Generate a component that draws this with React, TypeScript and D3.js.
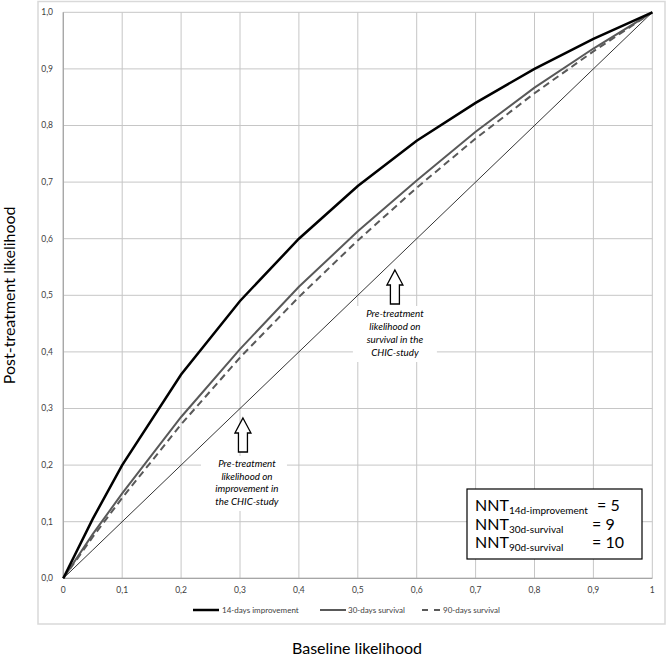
import React from "react";
import * as d3 from "d3";

const baseline = [0, 0.05, 0.1, 0.2, 0.3, 0.4, 0.5, 0.6, 0.7, 0.8, 0.9, 1.0];
const improvement14d = [0, 0.105, 0.2, 0.36, 0.49, 0.6, 0.693, 0.773, 0.84, 0.9, 0.953, 1.0];
const survival30d = [0, 0.078, 0.15, 0.285, 0.405, 0.515, 0.613, 0.703, 0.789, 0.867, 0.936, 1.0];
const survival90d = [0, 0.073, 0.142, 0.272, 0.39, 0.497, 0.597, 0.69, 0.777, 0.857, 0.931, 1.0];
const diagonal = [0, 0.05, 0.1, 0.2, 0.3, 0.4, 0.5, 0.6, 0.7, 0.8, 0.9, 1.0];

const xTickValues = [0, 0.1, 0.2, 0.3, 0.4, 0.5, 0.6, 0.7, 0.8, 0.9, 1.0];
const xTickLabels = ["0", "0,1", "0,2", "0,3", "0,4", "0,5", "0,6", "0,7", "0,8", "0,9", "1"];
const yTickValues = [0, 0.1, 0.2, 0.3, 0.4, 0.5, 0.6, 0.7, 0.8, 0.9, 1.0];
const yTickLabels = ["0,0", "0,1", "0,2", "0,3", "0,4", "0,5", "0,6", "0,7", "0,8", "0,9", "1,0"];

const seriesNames = ["14-days improvement", "30-days survival", "90-days survival"];

const annotation1Lines = ["Pre-treatment", "likelihood on", "improvement in", "the CHIC-study"];
const annotation2Lines = ["Pre-treatment", "likelihood on", "survival in the", "CHIC-study"];

const nntLabels = ["14d-improvement", "30d-survival", "90d-survival"];
const nntValues = ["= 5", "= 9", "= 10"];

const FONT = "Lato, 'Open Sans', sans-serif";

function BlockArrow({ cx, top }: { cx: number; top: number }) {
  const hw = 8, sw = 4.5, headH = 15, total = 34;
  const d = `M${cx},${top} L${cx + hw},${top + headH} L${cx + sw},${top + headH} L${cx + sw},${top + total} L${cx - sw},${top + total} L${cx - sw},${top + headH} L${cx - hw},${top + headH} Z`;
  return <path d={d} fill="#fff" stroke="#000" strokeWidth={1.3} strokeLinejoin="miter" />;
}

export default function App() {
  const x = d3.scaleLinear().domain([0, 1]).range([63.3, 652.3]);
  const y = d3.scaleLinear().domain([0, 1]).range([578.3, 12.3]);
  const line = d3
    .line<[number, number]>()
    .x((d) => x(d[0]))
    .y((d) => y(d[1]));
  const mk = (vals: number[]) => baseline.map((b, i) => [b, vals[i]] as [number, number]);

  const ann1x = x(0.305);
  const ann2x = x(0.563);

  return (
    <svg
      width={667}
      height={657}
      style={{ position: "absolute", left: 0, top: 0, background: "#fff", fontFamily: FONT }}
    >
      <rect x={0} y={0} width={667} height={657} fill="#fff" />
      <rect x={38} y={1.5} width={627} height={622.5} fill="none" stroke="#d9d9d9" strokeWidth={1.5} />

      {/* gridlines */}
      {xTickValues.map((v, i) => (
        <line key={"gx" + i} x1={x(v)} x2={x(v)} y1={y(0)} y2={y(1)} stroke="#c6c6c6" strokeWidth={1} />
      ))}
      {yTickValues.map((v, i) => (
        <line key={"gy" + i} x1={x(0)} x2={x(1)} y1={y(v)} y2={y(v)} stroke="#c6c6c6" strokeWidth={1} />
      ))}
      {/* axes */}
      <line x1={x(0)} x2={x(0)} y1={y(0)} y2={y(1)} stroke="#a6a6a6" strokeWidth={1.3} />
      <line x1={x(0)} x2={x(1)} y1={y(0)} y2={y(0)} stroke="#a6a6a6" strokeWidth={1.3} />

      {/* tick labels */}
      {yTickValues.map((v, i) => (
        <text key={"ty" + i} x={53} y={y(v)} dy="0.35em" textAnchor="end" fontSize={8.5} fill="#404040">
          {yTickLabels[i]}
        </text>
      ))}
      {xTickValues.map((v, i) => (
        <text key={"tx" + i} x={x(v)} y={593} textAnchor="middle" fontSize={8.5} fill="#404040">
          {xTickLabels[i]}
        </text>
      ))}

      {/* series */}
      <path d={line(mk(diagonal)) || ""} fill="none" stroke="#000" strokeWidth={0.8} />
      <path d={line(mk(survival90d)) || ""} fill="none" stroke="#595959" strokeWidth={2} strokeDasharray="7,4.5" />
      <path d={line(mk(survival30d)) || ""} fill="none" stroke="#595959" strokeWidth={2} />
      <path d={line(mk(improvement14d)) || ""} fill="none" stroke="#000" strokeWidth={2.5} />

      {/* annotation 1 */}
      <rect x={ann1x - 42} y={456} width={86} height={55} fill="#fff" />
      <BlockArrow cx={ann1x} top={418} />
      {annotation1Lines.map((t, i) => (
        <text key={"a1" + i} x={ann1x + 4} y={467 + i * 12.7} textAnchor="middle" fontSize={9.8} fontStyle="italic" fill="#000">
          {t}
        </text>
      ))}

      {/* annotation 2 */}
      <rect x={ann2x - 42} y={306} width={84} height={56} fill="#fff" />
      <BlockArrow cx={ann2x} top={270} />
      {annotation2Lines.map((t, i) => (
        <text key={"a2" + i} x={ann2x} y={317 + i * 13} textAnchor="middle" fontSize={9.8} fontStyle="italic" fill="#000">
          {t}
        </text>
      ))}

      {/* NNT box */}
      <rect x={467} y={489} width={175} height={70} fill="#fff" stroke="#000" strokeWidth={1.2} />
      {nntLabels.map((lab, i) => (
        <g key={"nnt" + i}>
          <text x={475} y={511 + i * 18.5} fontSize={16} fill="#000">
            NNT
            <tspan fontSize={10} dy={3}>{lab}</tspan>
          </text>
          <text x={i === 0 ? 597 : 592} y={511 + i * 18.5} fontSize={16} fill="#000">
            {nntValues[i]}
          </text>
        </g>
      ))}

      {/* legend */}
      <line x1={193} x2={219} y1={610} y2={610} stroke="#000" strokeWidth={2.5} />
      <text x={222} y={610} dy="0.35em" fontSize={8} fill="#404040">{seriesNames[0]}</text>
      <line x1={320} x2={346} y1={610} y2={610} stroke="#595959" strokeWidth={2} />
      <text x={348} y={610} dy="0.35em" fontSize={8} fill="#404040">{seriesNames[1]}</text>
      <line x1={422} x2={440} y1={610} y2={610} stroke="#595959" strokeWidth={2} strokeDasharray="6,6" />
      <text x={443} y={610} dy="0.35em" fontSize={8} fill="#404040">{seriesNames[2]}</text>

      {/* axis titles */}
      <text x={357} y={654} textAnchor="middle" fontSize={16} fill="#000">Baseline likelihood</text>
      <text
        transform={`translate(15,${y(0.5)}) rotate(-90)`}
        textAnchor="middle"
        fontSize={16}
        fill="#000"
      >
        Post-treatment likelihood
      </text>
    </svg>
  );
}
